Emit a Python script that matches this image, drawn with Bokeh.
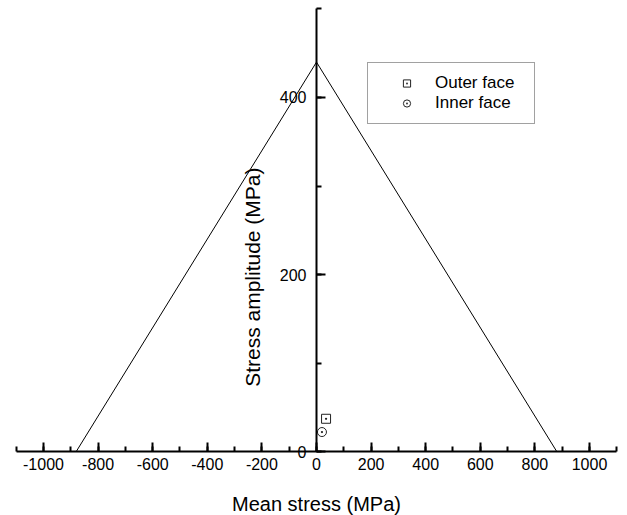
import math
from bokeh.plotting import figure
from bokeh.models import Range1d, SingleIntervalTicker, Legend, LegendItem, ColumnDataSource
from bokeh.embed import file_html
from bokeh.resources import INLINE
from bokeh.core.properties import value

# ---- data ----
limit_x = [-880, 0, 880]
limit_y = [0, 440, 0]
outer_x = [35]
outer_y = [37]
inner_x = [20]
inner_y = [22]
x_ticks = [-1000, -800, -600, -400, -200, 0, 200, 400, 600, 800, 1000]
y_ticks = [0, 200, 400]
x_title = "Mean stress (MPa)"
y_title = "Stress amplitude (MPa)"
series_names = ["Outer face", "Inner face"]

FONT = "Liberation Sans"

p = figure(width=627, height=515, output_backend="svg", toolbar_location=None,
           x_range=Range1d(-1157.5, 1139.2), y_range=Range1d(-72.3, 509.6),
           min_border=0, min_border_left=0, min_border_right=0,
           min_border_top=0, min_border_bottom=0)
p.outline_line_color = None
p.grid.visible = False
p.background_fill_color = "white"
p.border_fill_color = "white"

# x axis at y=0
xa = p.xaxis[0]
xa.fixed_location = 0
xa.bounds = (-1100, 1100)
xa.ticker = SingleIntervalTicker(interval=200, num_minor_ticks=2)
xa.major_label_overrides = {t: str(t) for t in x_ticks}
xa.axis_line_width = 2
xa.axis_line_color = "black"
xa.major_tick_in = 9
xa.major_tick_out = 0
xa.minor_tick_in = 5
xa.minor_tick_out = 0
xa.major_tick_line_width = 2
xa.minor_tick_line_width = 2
xa.major_tick_line_color = "black"
xa.minor_tick_line_color = "black"
xa.major_label_text_font = FONT
xa.major_label_text_font_size = "16px"
xa.major_label_text_color = "black"
xa.major_label_standoff = 6

# y axis at x=0
ya = p.yaxis[0]
ya.fixed_location = 0
ya.bounds = (0, 500)
ya.ticker = SingleIntervalTicker(interval=200, num_minor_ticks=2)
ya.major_label_overrides = {t: str(t) for t in y_ticks}
ya.axis_line_width = 2
ya.axis_line_color = "black"
ya.major_tick_in = 9
ya.major_tick_out = 0
ya.minor_tick_in = 5
ya.minor_tick_out = 0
ya.major_tick_line_width = 2
ya.minor_tick_line_width = 2
ya.major_tick_line_color = "black"
ya.minor_tick_line_color = "black"
ya.major_label_text_font = FONT
ya.major_label_text_font_size = "16px"
ya.major_label_text_color = "black"
ya.major_label_standoff = 10

# limit line
p.line(limit_x, limit_y, line_color="black", line_width=1)

# points
r_out = p.scatter(outer_x, outer_y, marker="square_dot", size=9,
                  fill_color=None, line_color="#222222", line_width=1)
r_in = p.scatter(inner_x, inner_y, marker="circle_dot", size=9,
                 fill_color=None, line_color="#222222", line_width=1)

# axis titles
tsrc = ColumnDataSource(dict(x=[0], y=[-58.8], t=[x_title]))
p.text(x="x", y="y", text="t", source=tsrc, text_font=value(FONT),
       text_font_size="20px", text_align="center", text_baseline="middle",
       text_color="black")
ysrc = ColumnDataSource(dict(x=[-236], y=[197], t=[y_title]))
p.text(x="x", y="y", text="t", source=ysrc, text_font=value(FONT),
       text_font_size="21px", text_align="center", text_baseline="middle",
       angle=math.pi / 2, text_color="black")

legend = Legend(items=[LegendItem(label=series_names[0], renderers=[r_out]),
                       LegendItem(label=series_names[1], renderers=[r_in])],
                location=(367, 391))
legend.border_line_color = "#444444"
legend.border_line_width = 1
legend.background_fill_color = "white"
legend.background_fill_alpha = 1
legend.padding = 10
legend.margin = 0
legend.spacing = 0
legend.glyph_width = 57
legend.glyph_height = 18
legend.label_height = 18
legend.label_width = 89
legend.label_standoff = 0
legend.label_text_font = FONT
legend.label_text_font_size = "17px"
legend.label_text_color = "black"
p.add_layout(legend, "center")

open("out.html", "w").write(file_html(p, INLINE))
